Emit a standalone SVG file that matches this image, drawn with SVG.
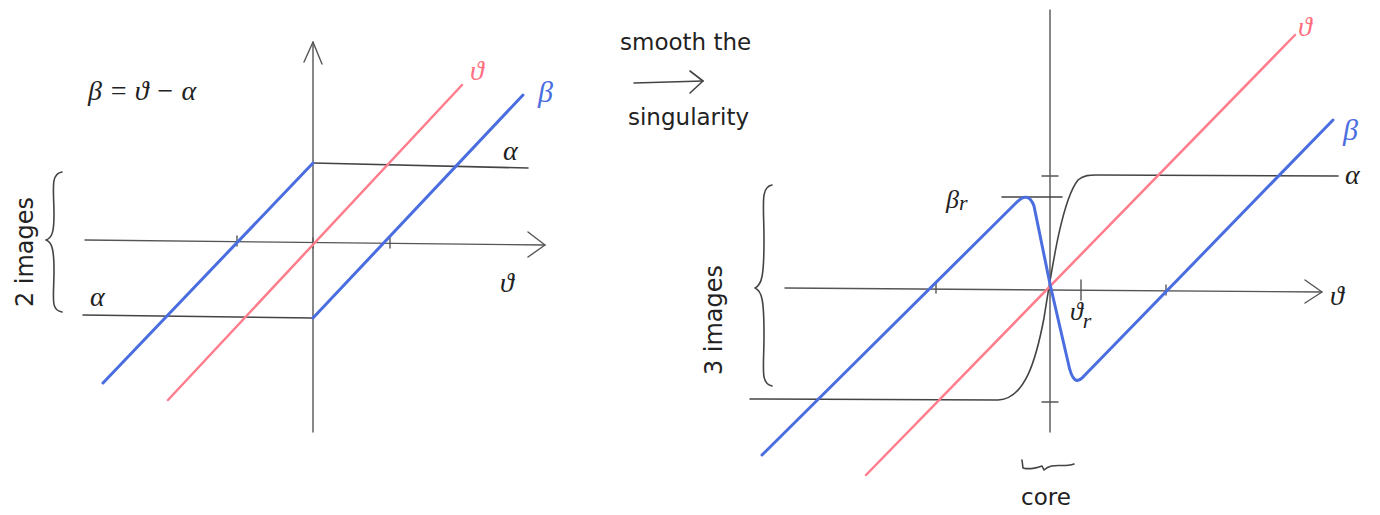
<svg xmlns="http://www.w3.org/2000/svg" width="1380" height="515" viewBox="0 0 1380 515">
<style>
.ax{fill:none;stroke:#555;stroke-width:1.4;stroke-linecap:round;stroke-linejoin:round}
.gr{fill:none;stroke:#444;stroke-width:1.6;stroke-linecap:round;stroke-linejoin:round}
.bl{fill:none;stroke:#4a6ee0;stroke-width:3;stroke-linecap:round;stroke-linejoin:round}
.rd{fill:none;stroke:#ff7d8c;stroke-width:2.5;stroke-linecap:round}
.t{font-family:"DejaVu Sans","Liberation Sans",sans-serif;fill:#222}
.g{font-family:"Liberation Serif",serif;font-style:italic;fill:#222}
</style>
<rect width="1380" height="515" fill="#fff"/>

<g id="left-panel">
  <g id="left-axes">
    <line class="ax" x1="313" y1="42" x2="313" y2="432"/>
    <polyline class="ax" points="304,62 313,42 322,64"/>
    <line class="ax" x1="85" y1="240" x2="545" y2="245"/>
    <polyline class="ax" points="528,232 545,245 528,257"/>
    <line class="ax" x1="237" y1="236" x2="237" y2="246"/>
    <line class="ax" x1="390" y1="238" x2="390" y2="248"/>
    <line class="ax" x1="313" y1="238" x2="313" y2="248"/>
  </g>
  <g id="left-alpha">
    <line class="gr" x1="313" y1="163" x2="528" y2="168"/>
    <line class="gr" x1="83" y1="315" x2="313" y2="318"/>
  </g>
  <g id="left-theta">
    <line class="rd" x1="168" y1="400" x2="462" y2="85"/>
  </g>
  <g id="left-beta">
    <line class="bl" x1="103" y1="383" x2="313" y2="163"/>
    <line class="bl" x1="313" y1="318" x2="523" y2="95"/>
  </g>
  <g id="left-labels">
    <text class="g" x="88" y="100" font-size="28">β = ϑ − α</text>
    <text class="g" x="470" y="80" font-size="28" fill="#ff6f80" style="fill:#ff6f80">ϑ</text>
    <text class="g" x="538" y="102" font-size="30" style="fill:#4a6ee0">β</text>
    <text class="g" x="503" y="160" font-size="28">α</text>
    <text class="g" x="90" y="306" font-size="28">α</text>
    <text class="g" x="500" y="292" font-size="28">ϑ</text>
    <path class="gr" d="M62,172 C50,174 54,190 54,215 C54,232 52,238 46,240 C52,242 54,250 54,270 C54,298 50,310 62,312"/>
    <text class="t" font-size="24" transform="translate(33,252) rotate(-90)" text-anchor="middle">2 images</text>
  </g>
</g>

<g id="transition">
  <text class="t" x="620" y="50" font-size="23">smooth the</text>
  <line class="gr" x1="634" y1="83" x2="703" y2="81"/>
  <polyline class="gr" points="690,71 703,81 690,93"/>
  <text class="t" x="628" y="125" font-size="23">singularity</text>
</g>

<g id="right-panel">
  <g id="right-axes">
    <line class="ax" x1="1050" y1="10" x2="1050" y2="432"/>
    <line class="ax" x1="785" y1="288" x2="1322" y2="292"/>
    <polyline class="ax" points="1305,280 1322,292 1305,303"/>
    <line class="ax" x1="936" y1="283" x2="936" y2="293"/>
    <line class="ax" x1="1081" y1="280" x2="1081" y2="300"/>
    <line class="ax" x1="1166" y1="285" x2="1166" y2="295"/>
    <line class="ax" x1="1042" y1="176" x2="1058" y2="176"/>
    <line class="ax" x1="1042" y1="402" x2="1058" y2="402"/>
    <line class="gr" x1="1002" y1="197" x2="1062" y2="197"/>
  </g>
  <g id="right-alpha">
    <path class="gr" d="M750,399 L998,400 C1025,399 1036,360 1044,318 C1052,268 1062,200 1078,180 C1084,175 1090,175 1096,175 L1338,176"/>
  </g>
  <g id="right-theta">
    <line class="rd" x1="866" y1="475" x2="1295" y2="35"/>
  </g>
  <g id="right-beta">
    <path class="bl" d="M762,455 L1017,202 C1024,195 1030,195 1034,206 L1050,284 L1068,362 C1072,382 1077,384 1084,376 L1333,120"/>
  </g>
  <g id="right-labels">
    <text class="g" x="1298" y="36" font-size="28" style="fill:#ff6f80">ϑ</text>
    <text class="g" x="1343" y="140" font-size="30" style="fill:#4a6ee0">β</text>
    <text class="g" x="1345" y="184" font-size="28">α</text>
    <text class="g" x="1330" y="305" font-size="28">ϑ</text>
    <text class="g" x="946" y="208" font-size="26">β<tspan font-size="22" dy="2">r</tspan></text>
    <text class="g" x="1070" y="320" font-size="26">ϑ<tspan font-size="22" dy="8">r</tspan></text>
    <path class="gr" d="M772,185 C760,187 764,205 764,240 C764,275 762,285 755,288 C762,291 764,300 764,335 C764,370 760,383 772,386"/>
    <text class="t" font-size="24" transform="translate(722,320) rotate(-90)" text-anchor="middle">3 images</text>
    <path class="gr" d="M1022,460 L1023,468 C1030,470 1036,468 1042,466 L1044,470 C1052,462 1062,468 1074,464"/>
    <text class="t" x="1046" y="505" font-size="23" text-anchor="middle">core</text>
  </g>
</g>
</svg>
